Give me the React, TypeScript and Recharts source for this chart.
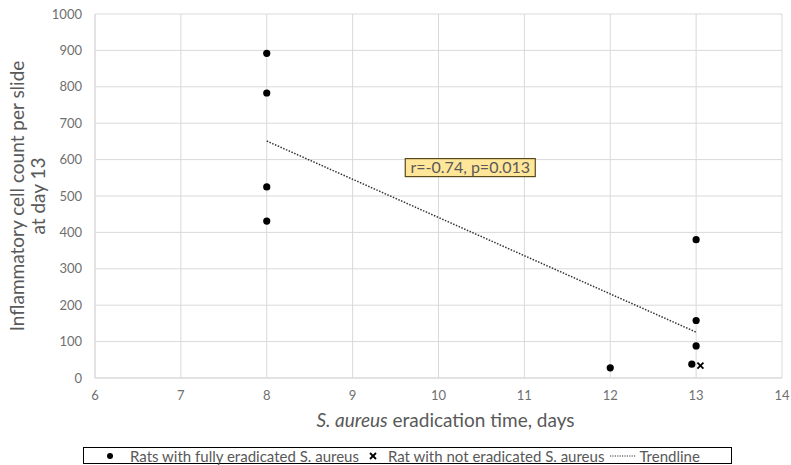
import React from "react";
import {
  ComposedChart,
  Scatter,
  XAxis,
  YAxis,
  CartesianGrid,
  ReferenceDot,
} from "recharts";

const xTicks = [6, 7, 8, 9, 10, 11, 12, 13, 14];
const yTicks = [0, 100, 200, 300, 400, 500, 600, 700, 800, 900, 1000];

const eradicated = [
  { x: 8, y: 892 },
  { x: 8, y: 783 },
  { x: 8, y: 525 },
  { x: 8, y: 431 },
  { x: 12, y: 28 },
  { x: 12.95, y: 38 },
  { x: 13, y: 380 },
  { x: 13, y: 158 },
  { x: 13, y: 88 },
];
const notEradicated = [{ x: 13.05, y: 34 }];
const trend = [
  { x: 8, y: 651 },
  { x: 13, y: 126 },
];
const annotation = { x: 10.37, y: 578, text: "r=-0.74, p=0.013" };

const FONT = "Lato, 'Liberation Sans', sans-serif";
const GREY = "#595959";
const TICK_GREY = "#6f6f6f";

const Dot = (props: any) => {
  const { cx, cy } = props;
  return <circle cx={cx} cy={cy} r={3.6} fill="#000" />;
};
const Cross = (props: any) => {
  const { cx, cy } = props;
  const s = 3;
  return (
    <g stroke="#000" strokeWidth={1.8}>
      <line x1={cx - s} y1={cy - s} x2={cx + s} y2={cy + s} />
      <line x1={cx - s} y1={cy + s} x2={cx + s} y2={cy - s} />
    </g>
  );
};

const AnnotationShape = (props: any) => {
  const { cx, cy } = props;
  const w = 130;
  const h = 18;
  return (
    <g>
      <rect x={cx - w / 2} y={cy - h / 2} width={w} height={h} fill="#FFE699" stroke="#5a4a1a" strokeWidth={1.2} />
      <text x={cx} y={cy + 5.5} textAnchor="middle" fontFamily={FONT} fontSize={16} fill={GREY}>
        {annotation.text}
      </text>
    </g>
  );
};

const XLabel = (props: any) => {
  const { viewBox } = props;
  const cx = viewBox.x + viewBox.width / 2 + 7;
  return (
    <text x={cx} y={viewBox.y + 49} textAnchor="middle" fontFamily={FONT} fontSize={19} fill={GREY}>
      <tspan fontStyle="italic">S. aureus</tspan>
      <tspan> eradication time, days</tspan>
    </text>
  );
};

const YLabel = (props: any) => {
  const { viewBox } = props;
  const cy = viewBox.y + viewBox.height / 2;
  return (
    <g transform={`translate(0, ${cy}) rotate(-90)`}>
      <text x={0} y={24} textAnchor="middle" fontFamily={FONT} fontSize={19} fill={GREY}>
        Inflammatory cell count per slide
      </text>
      <text x={0} y={45} textAnchor="middle" fontFamily={FONT} fontSize={19} fill={GREY}>
        at day 13
      </text>
    </g>
  );
};

export default function App() {
  return (
    <div style={{ position: "absolute", left: 0, top: 0, width: 791, height: 465, background: "#fff" }}>
      <ComposedChart
        width={791}
        height={465}
        margin={{ top: 14, right: 9, bottom: 0, left: 0 }}
      >
        <CartesianGrid stroke="#d9d9d9" strokeWidth={1} />
        <XAxis
          type="number"
          dataKey="x"
          domain={[6, 14]}
          ticks={xTicks}
          interval={0}
          height={87}
          tickLine={false}
          tickSize={6}
          tickMargin={7}
          axisLine={{ stroke: "#d9d9d9" }}
          tick={{ fill: TICK_GREY, fontSize: 13, fontFamily: FONT }}
          label={<XLabel />}
        />
        <YAxis
          type="number"
          dataKey="y"
          domain={[0, 1000]}
          ticks={yTicks}
          interval={0}
          width={95}
          tickLine={false}
          tickSize={6}
          tickMargin={7}
          axisLine={{ stroke: "#d9d9d9" }}
          tick={{ fill: TICK_GREY, fontSize: 13, fontFamily: FONT }}
          label={<YLabel />}
        />
        <Scatter
          data={trend}
          isAnimationActive={false}
          line={{ stroke: "#333", strokeWidth: 1.5, strokeDasharray: "1.5 1.5" }}
          shape={() => <g />}
        />
        <Scatter data={eradicated} isAnimationActive={false} shape={<Dot />} />
        <Scatter data={notEradicated} isAnimationActive={false} shape={<Cross />} />
        <ReferenceDot x={annotation.x} y={annotation.y} shape={<AnnotationShape />} />
      </ComposedChart>
      <div
        style={{
          position: "absolute",
          left: 83,
          top: 447,
          width: 647,
          height: 15,
          border: "1px solid #000",
          display: "flex",
          alignItems: "center",
          justifyContent: "flex-start",
          paddingLeft: 0,
          fontFamily: FONT,
          fontSize: 15,
          color: GREY,
          whiteSpace: "nowrap",
          boxSizing: "content-box",
        }}
      >
        <svg width={10} height={10} style={{ marginLeft: 21, marginRight: 15 }}>
          <circle cx={5} cy={5} r={3} fill="#000" />
        </svg>
        <span style={{ marginRight: 9 }}>Rats with fully eradicated S. aureus</span>
        <svg width={10} height={10} style={{ marginRight: 10 }}>
          <line x1={2} y1={2} x2={8} y2={8} stroke="#000" strokeWidth={1.8} />
          <line x1={2} y1={8} x2={8} y2={2} stroke="#000" strokeWidth={1.8} />
        </svg>
        <span style={{ marginRight: 6 }}>Rat with not eradicated S. aureus</span>
        <svg width={26} height={10} style={{ marginRight: 3 }}>
          <line x1={0} y1={5} x2={26} y2={5} stroke="#333" strokeWidth={1.2} strokeDasharray="1.2 1.2" />
        </svg>
        <span>Trendline</span>
      </div>
    </div>
  );
}
